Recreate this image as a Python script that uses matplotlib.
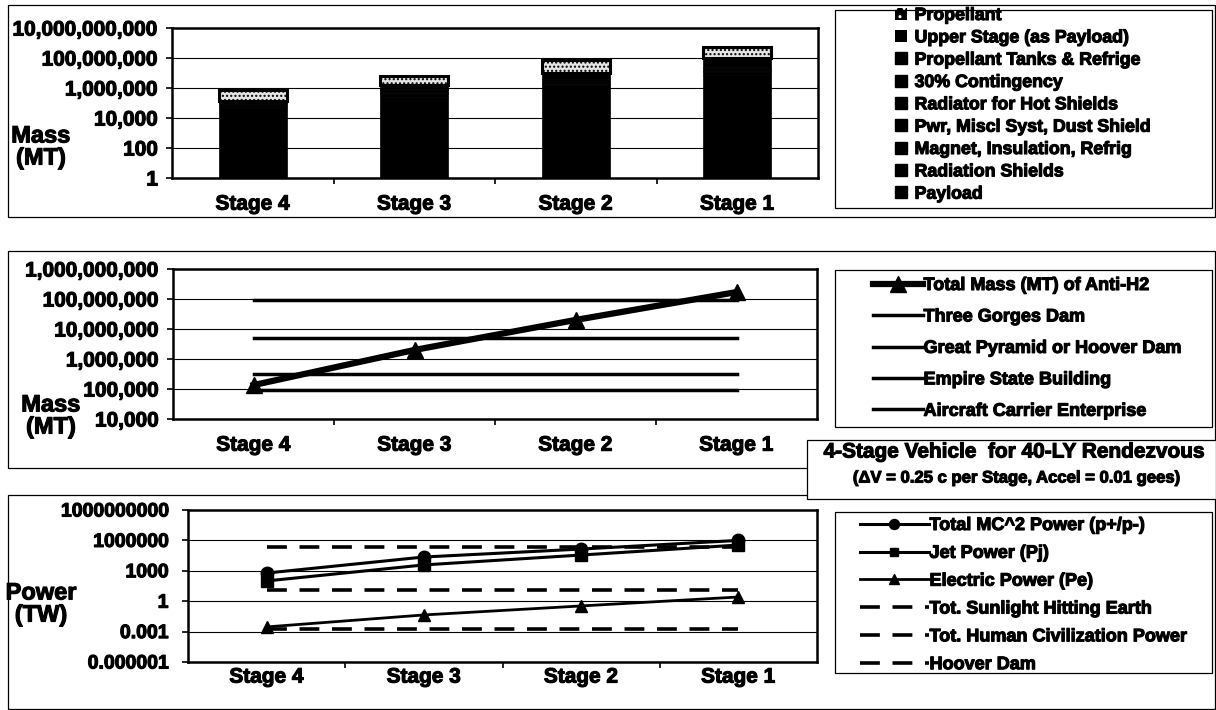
import matplotlib
matplotlib.use('Agg')
import matplotlib.pyplot as plt
import matplotlib.patheffects as pe
from matplotlib.text import Text
from matplotlib.patches import Rectangle, Patch
from matplotlib.ticker import FixedLocator, FixedFormatter, NullLocator

plt.rcParams['font.family'] = ['Liberation Sans', 'DejaVu Sans']
plt.rcParams['font.weight'] = 'bold'

W, H = 1216, 710

stages = ['Stage 4', 'Stage 3', 'Stage 2', 'Stage 1']

# --- panel 1: stacked stage masses (MT), bottom to top ---
payload = [1.0e4, 0, 0, 0]
rad_shields = [3.5e4, 2.4e5, 1.0e6, 7.0e6]
magnet = [2.0e4, 1.3e5, 5.5e5, 3.8e6]
pwr_misc = [1.5e4, 9.0e4, 3.5e5, 2.5e6]
radiator = [1.5e4, 1.0e5, 4.0e5, 2.9e6]
contingency = [3.0e4, 2.1e5, 8.5e5, 6.0e6]
tanks = [1.5e4, 1.3e5, 5.5e5, 3.8e6]
upper_stage = [0, 7.0e5, 6.3e6, 7.4e7]
propellant = [5.6e5, 4.7e6, 6.4e7, 4.4e8]

mass_ticks = [1, 1e2, 1e4, 1e6, 1e8, 1e10]
mass_ticklabels = ['1', '100', '10,000', '1,000,000', '100,000,000', '10,000,000,000']

# --- panel 2: anti-H2 mass vs reference objects (MT) ---
anti_h2 = [1.35e5, 2.0e6, 2.0e7, 1.7e8]
three_gorges = [9.0e7] * 4
great_pyramid = [5.0e6] * 4
empire_state = [3.2e5] * 4
carrier = [9.3e4] * 4

cmp_ticks = [1e4, 1e5, 1e6, 1e7, 1e8, 1e9]
cmp_ticklabels = ['10,000', '100,000', '1,000,000', '10,000,000', '100,000,000', '1,000,000,000']

# --- panel 3: power (TW) ---
mc2_power = [6.0e2, 2.3e4, 1.4e5, 1.0e6]
jet_power = [1.0e2, 3.8e3, 3.6e4, 3.5e5]
elec_power = [2.9e-3, 4.4e-2, 0.34, 2.6]
sunlight = [2.0e5] * 4
civilization = [13.0] * 4
hoover = [2.0e-3] * 4

pow_ticks = [1e-6, 1e-3, 1, 1e3, 1e6, 1e9]
pow_ticklabels = ['0.000001', '0.001', '1', '1000', '1000000', '1000000000']

fig = plt.figure(figsize=(W / 100, H / 100), dpi=100)


def px_axes(l, t, r, b):
    return fig.add_axes([l / W, 1 - b / H, (r - l) / W, (b - t) / H])


def px_box(l, t, r, b, **kw):
    kw.setdefault('fill', False)
    kw.setdefault('edgecolor', 'black')
    kw.setdefault('lw', 0.9)
    fig.add_artist(Rectangle((l / W, 1 - b / H), (r - l) / W, (b - t) / H,
                             transform=fig.transFigure, **kw))


def style(ax, ticks, labels, xpad, ypad, ysize):
    ax.set_yscale('log')
    ax.set_ylim(ticks[0], ticks[-1])
    ax.yaxis.set_major_locator(FixedLocator(ticks))
    ax.yaxis.set_major_formatter(FixedFormatter(labels))
    ax.yaxis.set_minor_locator(NullLocator())
    ax.grid(axis='y', color='black', lw=0.8)
    ax.set_axisbelow(True)
    ax.set_xlim(-0.5, 3.5)
    ax.set_xticks(range(4))
    ax.set_xticklabels(stages)
    ax.set_xticks([0.5, 1.5, 2.5], minor=True)
    ax.tick_params(axis='x', which='major', length=0, pad=xpad, labelsize=15)
    ax.tick_params(axis='x', which='minor', length=4, width=1.2, direction='out')
    ax.tick_params(axis='y', length=4, width=1.2, direction='out', pad=ypad, labelsize=ysize)
    for s in ax.spines.values():
        s.set_linewidth(1.8)


# outer frames
px_box(8, 5, 1215, 217)
px_box(8, 251, 1215, 468)
px_box(8, 495, 1215, 709)

x = range(4)

# ---------- panel 1 ----------
ax1 = px_axes(172, 28, 818, 178)
style(ax1, mass_ticks, mass_ticklabels, 12, 6, 15)
parts = [payload, rad_shields, magnet, pwr_misc, radiator, contingency, tanks, upper_stage]
bottom = [0.0] * 4
for vals in parts:
    ax1.bar(x, vals, 0.42, bottom=bottom, color='black', edgecolor='black', lw=0.5)
    bottom = [b + v for b, v in zip(bottom, vals)]
ax1.bar(x, propellant, 0.42, bottom=bottom, color='#e4e4e4', edgecolor='black',
        lw=2.2, hatch='....')

leg1_labels = ['Propellant', 'Upper Stage (as Payload)', 'Propellant Tanks & Refrige',
               '30% Contingency', 'Radiator for Hot Shields', 'Pwr, Miscl Syst, Dust Shield',
               'Magnet, Insulation, Refrig', 'Radiation Shields', 'Payload']
leg1_handles = [Patch(facecolor='black', edgecolor='white', hatch='..', lw=0),
                Patch(facecolor='black', edgecolor='white', hatch='|', lw=0)]
leg1_handles += [Patch(facecolor='black', edgecolor='black') for _ in range(7)]
fig.legend(leg1_handles, leg1_labels, loc='upper left', bbox_to_anchor=(895 / W, 1 - 7 / H),
           frameon=False, fontsize=12.8, handlelength=0.65, handleheight=0.65,
           handletextpad=0.45, labelspacing=0.3, borderpad=0, borderaxespad=0)
px_box(835, 10, 1212, 208)
fig.text(41 / W, 1 - 147 / H, 'Mass\n(MT)', ha='center', va='center', fontsize=17,
         linespacing=0.95)

# ---------- panel 2 ----------
ax2 = px_axes(173, 269, 817, 419)
style(ax2, cmp_ticks, cmp_ticklabels, 12, 6, 15)
ax2.plot(x, anti_h2, color='black', lw=4.5, marker='^', ms=12, label='Total Mass (MT) of Anti-H2', zorder=4)
ax2.plot(x, three_gorges, color='black', lw=2.5, label='Three Gorges Dam')
ax2.plot(x, great_pyramid, color='black', lw=2.5, label='Great Pyramid or Hoover Dam')
ax2.plot(x, empire_state, color='black', lw=2.5, label='Empire State Building')
ax2.plot(x, carrier, color='black', lw=2.5, label='Aircraft Carrier Enterprise')
h2, l2 = ax2.get_legend_handles_labels()
fig.legend(h2, l2, loc='upper left', bbox_to_anchor=(873 / W, 1 - 277 / H),
           frameon=False, fontsize=13, handlelength=2.75, handletextpad=0.05,
           labelspacing=0.8, borderpad=0, borderaxespad=0)
px_box(835, 270, 1212, 427)
fig.text(51 / W, 1 - 416 / H, 'Mass\n(MT)', ha='center', va='center', fontsize=17,
         linespacing=0.95)

# ---------- title box ----------
px_box(807, 440, 1216, 499, fill=True, facecolor='white', zorder=5)
fig.text(1015 / W, 1 - 452 / H, '4-Stage Vehicle  for 40-LY Rendezvous', ha='center',
         va='center', fontsize=15, zorder=6)
fig.text(1016 / W, 1 - 478 / H, '(\u0394V = 0.25 c per Stage, Accel = 0.01 gees)',
         ha='center', va='center', fontsize=12, zorder=6)

# ---------- panel 3 ----------
ax3 = px_axes(188, 510, 817, 662)
style(ax3, pow_ticks, pow_ticklabels, 4, 10, 14)
dash = (0, (5.5, 3.5))
ax3.plot(x, mc2_power, color='black', lw=2.2, marker='o', ms=9, label='Total MC^2 Power (p+/p-)', zorder=4)
ax3.plot(x, jet_power, color='black', lw=2.2, marker='s', ms=8, label='Jet Power (Pj)', zorder=4)
ax3.plot(x, elec_power, color='black', lw=2.0, marker='^', ms=9, label='Electric Power (Pe)', zorder=4)
ax3.plot(x, sunlight, color='black', lw=2.6, ls=dash, label='Tot. Sunlight Hitting Earth')
ax3.plot(x, civilization, color='black', lw=2.6, ls=dash, label='Tot. Human Civilization Power')
ax3.plot(x, hoover, color='black', lw=2.6, ls=dash, label='Hoover Dam')
h3, l3 = ax3.get_legend_handles_labels()
fig.legend(h3, l3, loc='upper left', bbox_to_anchor=(860 / W, 1 - 517 / H),
           frameon=False, fontsize=13, handlelength=3.8, handletextpad=0.05,
           labelspacing=0.6, borderpad=0, borderaxespad=0, markerscale=0.8)
px_box(835, 512, 1212, 673)
fig.text(41 / W, 1 - 604 / H, 'Power\n(TW)', ha='center', va='center', fontsize=17,
         linespacing=0.95)

# heavier, scan-like lettering
for t in fig.findobj(Text):
    t.set_path_effects([pe.withStroke(linewidth=0.8, foreground='black')])

fig.savefig('out.png', dpi=100)
